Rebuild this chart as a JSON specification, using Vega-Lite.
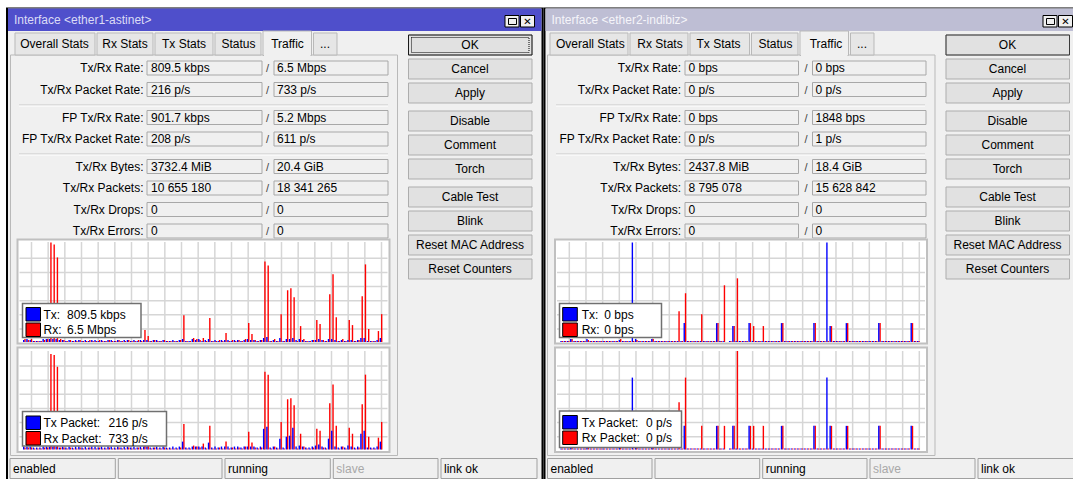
{
"$schema":"https://vega.github.io/schema/vega-lite/v6.json",
"padding":0,
"background":"#ffffff",
"spacing":0,
"bounds":"flush",
"config":{"view":{"stroke":null},"axis":{"disable":true},"legend":{"disable":true},"text":{"font":"Liberation Sans","fontSize":12,"baseline":"middle","align":"left","color":"#000000"}},
"datasets":{
"one":[{"k":0}],
"tbtn":[{"b":0},{"b":1}],
"tabs":[{"i":0,"j":1,"label":"Overall Stats"},{"i":1,"j":2,"label":"Rx Stats"},{"i":2,"j":3,"label":"Tx Stats"},{"i":3,"j":4,"label":"Status"},{"i":4,"j":5,"label":"Traffic"},{"i":5,"j":6,"label":"..."}],
"formL":[{"i":0,"label":"Tx/Rx Rate:","tx":"809.5 kbps","rx":"6.5 Mbps"},{"i":1,"label":"Tx/Rx Packet Rate:","tx":"216 p/s","rx":"733 p/s"},{"i":2,"label":"FP Tx/Rx Rate:","tx":"901.7 kbps","rx":"5.2 Mbps"},{"i":3,"label":"FP Tx/Rx Packet Rate:","tx":"208 p/s","rx":"611 p/s"},{"i":4,"label":"Tx/Rx Bytes:","tx":"3732.4 MiB","rx":"20.4 GiB"},{"i":5,"label":"Tx/Rx Packets:","tx":"10 655 180","rx":"18 341 265"},{"i":6,"label":"Tx/Rx Drops:","tx":"0","rx":"0"},{"i":7,"label":"Tx/Rx Errors:","tx":"0","rx":"0"}],
"formR":[{"i":0,"label":"Tx/Rx Rate:","tx":"0 bps","rx":"0 bps"},{"i":1,"label":"Tx/Rx Packet Rate:","tx":"0 p/s","rx":"0 p/s"},{"i":2,"label":"FP Tx/Rx Rate:","tx":"0 bps","rx":"1848 bps"},{"i":3,"label":"FP Tx/Rx Packet Rate:","tx":"0 p/s","rx":"1 p/s"},{"i":4,"label":"Tx/Rx Bytes:","tx":"2437.8 MiB","rx":"18.4 GiB"},{"i":5,"label":"Tx/Rx Packets:","tx":"8 795 078","rx":"15 628 842"},{"i":6,"label":"Tx/Rx Drops:","tx":"0","rx":"0"},{"i":7,"label":"Tx/Rx Errors:","tx":"0","rx":"0"}],
"seps":[{"s":0},{"s":1}],
"buttons":[{"i":0,"label":"OK"},{"i":1,"label":"Cancel"},{"i":2,"label":"Apply"},{"i":3,"label":"Disable"},{"i":4,"label":"Comment"},{"i":5,"label":"Torch"},{"i":6,"label":"Cable Test"},{"i":7,"label":"Blink"},{"i":8,"label":"Reset MAC Address"},{"i":9,"label":"Reset Counters"}],
"vgrid":[{"k":0},{"k":1},{"k":2},{"k":3},{"k":4},{"k":5},{"k":6},{"k":7},{"k":8},{"k":9},{"k":10},{"k":11},{"k":12},{"k":13},{"k":14},{"k":15},{"k":16},{"k":17},{"k":18},{"k":19},{"k":20},{"k":21}],
"hgrid":[{"k":0},{"k":1},{"k":2},{"k":3},{"k":4},{"k":5}],
"legL":[{"chart":"rate","s":0,"series":"tx","label":"Tx:","value":"809.5 kbps"},{"chart":"rate","s":1,"series":"rx","label":"Rx:","value":"6.5 Mbps"},{"chart":"pkt","s":0,"series":"tx","label":"Tx Packet:","value":"216 p/s"},{"chart":"pkt","s":1,"series":"rx","label":"Rx Packet:","value":"733 p/s"}],
"legR":[{"chart":"rate","s":0,"series":"tx","label":"Tx:","value":"0 bps"},{"chart":"rate","s":1,"series":"rx","label":"Rx:","value":"0 bps"},{"chart":"pkt","s":0,"series":"tx","label":"Tx Packet:","value":"0 p/s"},{"chart":"pkt","s":1,"series":"rx","label":"Rx Packet:","value":"0 p/s"}],
"status":[{"i":0,"j":1,"label":"enabled","dim":false},{"i":1,"j":2,"label":"","dim":false},{"i":2,"j":3,"label":"running","dim":false},{"i":3,"j":4,"label":"slave","dim":true},{"i":4,"j":5,"label":"link ok","dim":false}],
"rateL":[{"t":0,"tx":2,"rx":3},{"t":1,"tx":3,"rx":2},{"t":2,"tx":2,"rx":3},{"t":3,"tx":1,"rx":1},{"t":4,"tx":1,"rx":1},{"t":5,"tx":1,"rx":1},{"t":6,"tx":3,"rx":2},{"t":7,"tx":3,"rx":3},{"t":8,"tx":3,"rx":100},{"t":9,"tx":3,"rx":98},{"t":10,"tx":3,"rx":85},{"t":11,"tx":2,"rx":3},{"t":12,"tx":2,"rx":2},{"t":13,"tx":1,"rx":1},{"t":14,"tx":2,"rx":2},{"t":15,"tx":1,"rx":1},{"t":16,"tx":2,"rx":1},{"t":17,"tx":2,"rx":2},{"t":18,"tx":1,"rx":1},{"t":19,"tx":2,"rx":1},{"t":20,"tx":1,"rx":2},{"t":21,"tx":2,"rx":1},{"t":22,"tx":2,"rx":1},{"t":23,"tx":1,"rx":2},{"t":24,"tx":2,"rx":1},{"t":25,"tx":1,"rx":1},{"t":26,"tx":2,"rx":2},{"t":27,"tx":2,"rx":1},{"t":28,"tx":1,"rx":1},{"t":29,"tx":2,"rx":2},{"t":30,"tx":1,"rx":1},{"t":31,"tx":2,"rx":1},{"t":32,"tx":2,"rx":2},{"t":33,"tx":1,"rx":1},{"t":34,"tx":2,"rx":1},{"t":35,"tx":1,"rx":2},{"t":36,"tx":2,"rx":1},{"t":37,"tx":2,"rx":12},{"t":38,"tx":2,"rx":6},{"t":39,"tx":1,"rx":1},{"t":40,"tx":2,"rx":2},{"t":41,"tx":2,"rx":1},{"t":42,"tx":1,"rx":1},{"t":43,"tx":2,"rx":2},{"t":44,"tx":1,"rx":1},{"t":45,"tx":1,"rx":1},{"t":46,"tx":2,"rx":1},{"t":47,"tx":1,"rx":1},{"t":48,"tx":2,"rx":2},{"t":49,"tx":3,"rx":27},{"t":50,"tx":1,"rx":1},{"t":51,"tx":1,"rx":1},{"t":52,"tx":3,"rx":4},{"t":53,"tx":2,"rx":3},{"t":54,"tx":3,"rx":2},{"t":55,"tx":1,"rx":4},{"t":56,"tx":2,"rx":1},{"t":57,"tx":3,"rx":24},{"t":58,"tx":1,"rx":1},{"t":59,"tx":2,"rx":1},{"t":60,"tx":1,"rx":2},{"t":61,"tx":2,"rx":1},{"t":62,"tx":2,"rx":9},{"t":63,"tx":2,"rx":1},{"t":64,"tx":1,"rx":2},{"t":65,"tx":2,"rx":1},{"t":66,"tx":2,"rx":2},{"t":67,"tx":1,"rx":1},{"t":68,"tx":2,"rx":3},{"t":69,"tx":3,"rx":19},{"t":70,"tx":2,"rx":8},{"t":71,"tx":2,"rx":2},{"t":72,"tx":1,"rx":1},{"t":73,"tx":2,"rx":2},{"t":74,"tx":4,"rx":81},{"t":75,"tx":5,"rx":77},{"t":76,"tx":1,"rx":1},{"t":77,"tx":2,"rx":3},{"t":78,"tx":1,"rx":1},{"t":79,"tx":4,"rx":28},{"t":80,"tx":1,"rx":1},{"t":81,"tx":3,"rx":52},{"t":82,"tx":3,"rx":54},{"t":83,"tx":4,"rx":45},{"t":84,"tx":2,"rx":1},{"t":85,"tx":3,"rx":16},{"t":86,"tx":2,"rx":3},{"t":87,"tx":1,"rx":1},{"t":88,"tx":1,"rx":1},{"t":89,"tx":2,"rx":2},{"t":90,"tx":2,"rx":22},{"t":91,"tx":3,"rx":18},{"t":92,"tx":2,"rx":2},{"t":93,"tx":1,"rx":1},{"t":94,"tx":3,"rx":48},{"t":95,"tx":3,"rx":68},{"t":96,"tx":2,"rx":25},{"t":97,"tx":1,"rx":1},{"t":98,"tx":2,"rx":3},{"t":99,"tx":1,"rx":1},{"t":100,"tx":2,"rx":22},{"t":101,"tx":2,"rx":17},{"t":102,"tx":1,"rx":1},{"t":103,"tx":2,"rx":2},{"t":104,"tx":4,"rx":46},{"t":105,"tx":4,"rx":78},{"t":106,"tx":1,"rx":13},{"t":107,"tx":1,"rx":1},{"t":108,"tx":1,"rx":1},{"t":109,"tx":2,"rx":11},{"t":110,"tx":4,"rx":28}],
"pktL":[{"t":0,"tx":3,"rx":2},{"t":1,"tx":3,"rx":2},{"t":2,"tx":3,"rx":2},{"t":3,"tx":2,"rx":1},{"t":4,"tx":2,"rx":1},{"t":5,"tx":2,"rx":1},{"t":6,"tx":3,"rx":2},{"t":7,"tx":3,"rx":2},{"t":8,"tx":3,"rx":97},{"t":9,"tx":3,"rx":96},{"t":10,"tx":3,"rx":84},{"t":11,"tx":2,"rx":2},{"t":12,"tx":3,"rx":2},{"t":13,"tx":2,"rx":1},{"t":14,"tx":3,"rx":2},{"t":15,"tx":2,"rx":1},{"t":16,"tx":3,"rx":1},{"t":17,"tx":3,"rx":2},{"t":18,"tx":2,"rx":1},{"t":19,"tx":3,"rx":1},{"t":20,"tx":2,"rx":2},{"t":21,"tx":3,"rx":1},{"t":22,"tx":3,"rx":1},{"t":23,"tx":2,"rx":2},{"t":24,"tx":3,"rx":1},{"t":25,"tx":2,"rx":1},{"t":26,"tx":3,"rx":2},{"t":27,"tx":3,"rx":1},{"t":28,"tx":2,"rx":1},{"t":29,"tx":3,"rx":2},{"t":30,"tx":2,"rx":1},{"t":31,"tx":3,"rx":1},{"t":32,"tx":3,"rx":2},{"t":33,"tx":2,"rx":1},{"t":34,"tx":3,"rx":1},{"t":35,"tx":2,"rx":2},{"t":36,"tx":3,"rx":1},{"t":37,"tx":3,"rx":10},{"t":38,"tx":3,"rx":5},{"t":39,"tx":2,"rx":1},{"t":40,"tx":2,"rx":2},{"t":41,"tx":3,"rx":1},{"t":42,"tx":2,"rx":1},{"t":43,"tx":3,"rx":2},{"t":44,"tx":2,"rx":1},{"t":45,"tx":2,"rx":1},{"t":46,"tx":3,"rx":1},{"t":47,"tx":2,"rx":1},{"t":48,"tx":3,"rx":2},{"t":49,"tx":8,"rx":26},{"t":50,"tx":2,"rx":1},{"t":51,"tx":2,"rx":1},{"t":52,"tx":3,"rx":4},{"t":53,"tx":3,"rx":3},{"t":54,"tx":3,"rx":2},{"t":55,"tx":3,"rx":6},{"t":56,"tx":2,"rx":1},{"t":57,"tx":7,"rx":24},{"t":58,"tx":2,"rx":1},{"t":59,"tx":3,"rx":1},{"t":60,"tx":2,"rx":2},{"t":61,"tx":3,"rx":1},{"t":62,"tx":3,"rx":8},{"t":63,"tx":3,"rx":1},{"t":64,"tx":2,"rx":2},{"t":65,"tx":3,"rx":1},{"t":66,"tx":3,"rx":2},{"t":67,"tx":2,"rx":1},{"t":68,"tx":3,"rx":3},{"t":69,"tx":3,"rx":18},{"t":70,"tx":3,"rx":7},{"t":71,"tx":3,"rx":2},{"t":72,"tx":2,"rx":1},{"t":73,"tx":3,"rx":2},{"t":74,"tx":21,"rx":79},{"t":75,"tx":23,"rx":76},{"t":76,"tx":2,"rx":1},{"t":77,"tx":3,"rx":3},{"t":78,"tx":2,"rx":1},{"t":79,"tx":11,"rx":28},{"t":80,"tx":2,"rx":1},{"t":81,"tx":13,"rx":51},{"t":82,"tx":14,"rx":52},{"t":83,"tx":22,"rx":45},{"t":84,"tx":3,"rx":1},{"t":85,"tx":4,"rx":16},{"t":86,"tx":3,"rx":3},{"t":87,"tx":2,"rx":1},{"t":88,"tx":2,"rx":1},{"t":89,"tx":3,"rx":2},{"t":90,"tx":4,"rx":21},{"t":91,"tx":5,"rx":19},{"t":92,"tx":3,"rx":2},{"t":93,"tx":2,"rx":1},{"t":94,"tx":11,"rx":47},{"t":95,"tx":19,"rx":66},{"t":96,"tx":3,"rx":24},{"t":97,"tx":2,"rx":1},{"t":98,"tx":3,"rx":3},{"t":99,"tx":2,"rx":1},{"t":100,"tx":4,"rx":22},{"t":101,"tx":3,"rx":16},{"t":102,"tx":2,"rx":1},{"t":103,"tx":3,"rx":2},{"t":104,"tx":16,"rx":46},{"t":105,"tx":19,"rx":76},{"t":106,"tx":2,"rx":13},{"t":107,"tx":2,"rx":1},{"t":108,"tx":2,"rx":1},{"t":109,"tx":3,"rx":12},{"t":110,"tx":8,"rx":28}],
"rateR":[{"t":0,"tx":1,"rx":1},{"t":1,"tx":1,"rx":1},{"t":2,"tx":1,"rx":1},{"t":3,"tx":3,"rx":3},{"t":4,"tx":1,"rx":1},{"t":5,"tx":1,"rx":1},{"t":6,"tx":1,"rx":1},{"t":7,"tx":1,"rx":1},{"t":8,"tx":3,"rx":2},{"t":9,"tx":1,"rx":1},{"t":10,"tx":1,"rx":1},{"t":11,"tx":1,"rx":1},{"t":12,"tx":1,"rx":1},{"t":13,"tx":1,"rx":1},{"t":14,"tx":1,"rx":1},{"t":15,"tx":1,"rx":1},{"t":16,"tx":1,"rx":1},{"t":17,"tx":1,"rx":1},{"t":18,"tx":2,"rx":3},{"t":19,"tx":1,"rx":1},{"t":20,"tx":1,"rx":1},{"t":21,"tx":1,"rx":1},{"t":22,"tx":100,"rx":1},{"t":23,"tx":3,"rx":2},{"t":24,"tx":1,"rx":1},{"t":25,"tx":1,"rx":1},{"t":26,"tx":1,"rx":1},{"t":27,"tx":1,"rx":1},{"t":28,"tx":3,"rx":3},{"t":29,"tx":1,"rx":1},{"t":30,"tx":1,"rx":1},{"t":31,"tx":1,"rx":1},{"t":32,"tx":1,"rx":1},{"t":33,"tx":1,"rx":1},{"t":34,"tx":1,"rx":1},{"t":35,"tx":1,"rx":1},{"t":36,"tx":1,"rx":31},{"t":37,"tx":1,"rx":1},{"t":38,"tx":19,"rx":49},{"t":39,"tx":1,"rx":1},{"t":40,"tx":1,"rx":1},{"t":41,"tx":1,"rx":1},{"t":42,"tx":1,"rx":1},{"t":43,"tx":1,"rx":28},{"t":44,"tx":1,"rx":1},{"t":45,"tx":1,"rx":1},{"t":46,"tx":1,"rx":1},{"t":47,"tx":1,"rx":1},{"t":48,"tx":19,"rx":19},{"t":49,"tx":1,"rx":1},{"t":50,"tx":1,"rx":57},{"t":51,"tx":0,"rx":0},{"t":52,"tx":1,"rx":1},{"t":53,"tx":16,"rx":16},{"t":54,"tx":1,"rx":64},{"t":55,"tx":1,"rx":1},{"t":56,"tx":1,"rx":1},{"t":57,"tx":1,"rx":1},{"t":58,"tx":19,"rx":19},{"t":59,"tx":1,"rx":16},{"t":60,"tx":1,"rx":1},{"t":61,"tx":1,"rx":1},{"t":62,"tx":1,"rx":16},{"t":63,"tx":1,"rx":1},{"t":64,"tx":1,"rx":1},{"t":65,"tx":1,"rx":1},{"t":66,"tx":1,"rx":1},{"t":67,"tx":1,"rx":1},{"t":68,"tx":19,"rx":19},{"t":69,"tx":1,"rx":1},{"t":70,"tx":1,"rx":1},{"t":71,"tx":1,"rx":1},{"t":72,"tx":1,"rx":1},{"t":73,"tx":1,"rx":1},{"t":74,"tx":1,"rx":1},{"t":75,"tx":1,"rx":1},{"t":76,"tx":1,"rx":1},{"t":77,"tx":1,"rx":1},{"t":78,"tx":19,"rx":19},{"t":79,"tx":1,"rx":1},{"t":80,"tx":1,"rx":1},{"t":81,"tx":1,"rx":1},{"t":82,"tx":100,"rx":1},{"t":83,"tx":16,"rx":16},{"t":84,"tx":1,"rx":1},{"t":85,"tx":1,"rx":1},{"t":86,"tx":1,"rx":1},{"t":87,"tx":1,"rx":1},{"t":88,"tx":19,"rx":19},{"t":89,"tx":1,"rx":1},{"t":90,"tx":1,"rx":1},{"t":91,"tx":1,"rx":1},{"t":92,"tx":1,"rx":1},{"t":93,"tx":1,"rx":1},{"t":94,"tx":1,"rx":1},{"t":95,"tx":1,"rx":1},{"t":96,"tx":1,"rx":1},{"t":97,"tx":1,"rx":1},{"t":98,"tx":19,"rx":19},{"t":99,"tx":1,"rx":1},{"t":100,"tx":1,"rx":1},{"t":101,"tx":1,"rx":1},{"t":102,"tx":1,"rx":1},{"t":103,"tx":1,"rx":1},{"t":104,"tx":1,"rx":1},{"t":105,"tx":1,"rx":1},{"t":106,"tx":1,"rx":1},{"t":107,"tx":1,"rx":1},{"t":108,"tx":19,"rx":19},{"t":109,"tx":1,"rx":1},{"t":110,"tx":1,"rx":1}],
"pktR":[{"t":0,"tx":1,"rx":1},{"t":1,"tx":1,"rx":1},{"t":2,"tx":1,"rx":1},{"t":3,"tx":3,"rx":3},{"t":4,"tx":1,"rx":1},{"t":5,"tx":1,"rx":1},{"t":6,"tx":1,"rx":1},{"t":7,"tx":1,"rx":1},{"t":8,"tx":3,"rx":2},{"t":9,"tx":1,"rx":1},{"t":10,"tx":1,"rx":1},{"t":11,"tx":1,"rx":1},{"t":12,"tx":1,"rx":1},{"t":13,"tx":1,"rx":1},{"t":14,"tx":1,"rx":1},{"t":15,"tx":1,"rx":1},{"t":16,"tx":1,"rx":1},{"t":17,"tx":1,"rx":1},{"t":18,"tx":2,"rx":3},{"t":19,"tx":1,"rx":1},{"t":20,"tx":1,"rx":1},{"t":21,"tx":1,"rx":1},{"t":22,"tx":73,"rx":1},{"t":23,"tx":3,"rx":2},{"t":24,"tx":1,"rx":1},{"t":25,"tx":1,"rx":1},{"t":26,"tx":1,"rx":1},{"t":27,"tx":1,"rx":1},{"t":28,"tx":3,"rx":3},{"t":29,"tx":1,"rx":1},{"t":30,"tx":1,"rx":1},{"t":31,"tx":1,"rx":1},{"t":32,"tx":1,"rx":1},{"t":33,"tx":1,"rx":1},{"t":34,"tx":1,"rx":1},{"t":35,"tx":1,"rx":1},{"t":36,"tx":1,"rx":48},{"t":37,"tx":1,"rx":1},{"t":38,"tx":24,"rx":73},{"t":39,"tx":1,"rx":1},{"t":40,"tx":1,"rx":1},{"t":41,"tx":1,"rx":1},{"t":42,"tx":1,"rx":1},{"t":43,"tx":1,"rx":24},{"t":44,"tx":1,"rx":1},{"t":45,"tx":1,"rx":1},{"t":46,"tx":1,"rx":1},{"t":47,"tx":1,"rx":1},{"t":48,"tx":24,"rx":24},{"t":49,"tx":1,"rx":1},{"t":50,"tx":1,"rx":24},{"t":51,"tx":0,"rx":0},{"t":52,"tx":1,"rx":1},{"t":53,"tx":24,"rx":24},{"t":54,"tx":1,"rx":100},{"t":55,"tx":1,"rx":1},{"t":56,"tx":1,"rx":1},{"t":57,"tx":1,"rx":1},{"t":58,"tx":24,"rx":24},{"t":59,"tx":1,"rx":24},{"t":60,"tx":1,"rx":1},{"t":61,"tx":1,"rx":1},{"t":62,"tx":1,"rx":24},{"t":63,"tx":1,"rx":1},{"t":64,"tx":1,"rx":1},{"t":65,"tx":1,"rx":1},{"t":66,"tx":1,"rx":1},{"t":67,"tx":1,"rx":1},{"t":68,"tx":24,"rx":24},{"t":69,"tx":1,"rx":1},{"t":70,"tx":1,"rx":1},{"t":71,"tx":1,"rx":1},{"t":72,"tx":1,"rx":1},{"t":73,"tx":1,"rx":1},{"t":74,"tx":1,"rx":1},{"t":75,"tx":1,"rx":1},{"t":76,"tx":1,"rx":1},{"t":77,"tx":1,"rx":1},{"t":78,"tx":24,"rx":24},{"t":79,"tx":1,"rx":1},{"t":80,"tx":1,"rx":1},{"t":81,"tx":1,"rx":1},{"t":82,"tx":73,"rx":1},{"t":83,"tx":24,"rx":24},{"t":84,"tx":1,"rx":1},{"t":85,"tx":1,"rx":1},{"t":86,"tx":1,"rx":1},{"t":87,"tx":1,"rx":1},{"t":88,"tx":24,"rx":24},{"t":89,"tx":1,"rx":1},{"t":90,"tx":1,"rx":1},{"t":91,"tx":1,"rx":1},{"t":92,"tx":1,"rx":1},{"t":93,"tx":1,"rx":1},{"t":94,"tx":1,"rx":1},{"t":95,"tx":1,"rx":1},{"t":96,"tx":1,"rx":1},{"t":97,"tx":1,"rx":1},{"t":98,"tx":24,"rx":24},{"t":99,"tx":1,"rx":1},{"t":100,"tx":1,"rx":1},{"t":101,"tx":1,"rx":1},{"t":102,"tx":1,"rx":1},{"t":103,"tx":1,"rx":1},{"t":104,"tx":1,"rx":1},{"t":105,"tx":1,"rx":1},{"t":106,"tx":1,"rx":1},{"t":107,"tx":1,"rx":1},{"t":108,"tx":24,"rx":24},{"t":109,"tx":1,"rx":1},{"t":110,"tx":1,"rx":1}]
},
"hconcat":[
{"width":538,"height":479,
"resolve":{"scale":{"x":"independent","y":"independent","fill":"independent","color":"independent"}},
"layer":[
{"data":{"name":"one"},"mark":{"type":"rect","fill":"#000000"},"encoding":{"x":{"datum":0,"type":"quantitative","scale":{"domain":[0,1],"range":[6,543.5],"nice":false}},"x2":{"datum":1},"y":{"datum":0,"type":"quantitative","scale":{"domain":[0,1],"range":[7.5,479],"nice":false}},"y2":{"datum":1}}},
{"data":{"name":"one"},"mark":{"type":"rect","fill":"#f0f0f0"},"encoding":{"x":{"datum":0,"type":"quantitative","scale":{"domain":[0,1],"range":[8,541.5],"nice":false}},"x2":{"datum":1},"y":{"datum":0,"type":"quantitative","scale":{"domain":[0,1],"range":[8.5,479],"nice":false}},"y2":{"datum":1}}},
{"data":{"name":"one"},"mark":{"type":"rect","fill":"#4f4fcb"},"encoding":{"x":{"datum":0,"type":"quantitative","scale":{"domain":[0,1],"range":[8,541.5],"nice":false}},"x2":{"datum":1},"y":{"datum":0,"type":"quantitative","scale":{"domain":[0,1],"range":[8.5,31],"nice":false}},"y2":{"datum":1}}},
{"data":{"name":"one"},"mark":{"type":"text","color":"#dcdcf6"},"encoding":{"x":{"datum":0,"type":"quantitative","scale":{"domain":[0,1],"range":[14,100],"nice":false}},"y":{"datum":0,"type":"quantitative","scale":{"domain":[0,1],"range":[20,30],"nice":false}},"text":{"value":"Interface <ether1-astinet>"}}},
{"data":{"name":"tbtn"},"mark":{"type":"rect","fill":"#f0f0f0","stroke":"#000000","strokeWidth":1,"x2Offset":14},"encoding":{"x":{"field":"b","type":"quantitative","scale":{"domain":[0,1],"range":[505,520.5],"nice":false}},"x2":{"field":"b"},"y":{"datum":0,"type":"quantitative","scale":{"domain":[0,1],"range":[15.5,27],"nice":false}},"y2":{"datum":1}}},
{"data":{"name":"one"},"mark":{"type":"rect","filled":false,"stroke":"#000000","strokeWidth":1},"encoding":{"x":{"datum":0,"type":"quantitative","scale":{"domain":[0,1],"range":[508.5,516.5],"nice":false}},"x2":{"datum":1},"y":{"datum":0,"type":"quantitative","scale":{"domain":[0,1],"range":[18.5,24.5],"nice":false}},"y2":{"datum":1}}},
{"data":{"name":"one"},"mark":{"type":"text","font":"DejaVu Sans","fontSize":10,"fontWeight":"bold","align":"center"},"encoding":{"x":{"datum":0,"type":"quantitative","scale":{"domain":[0,1],"range":[527.5,600],"nice":false}},"y":{"datum":0,"type":"quantitative","scale":{"domain":[0,1],"range":[21.5,30],"nice":false}},"text":{"value":"✕"}}},
{"data":{"name":"one"},"mark":{"type":"rect","filled":false,"stroke":"#b9b9b9"},"encoding":{"x":{"datum":0,"type":"quantitative","scale":{"domain":[0,1],"range":[10.5,397.5],"nice":false}},"x2":{"datum":1},"y":{"datum":0,"type":"quantitative","scale":{"domain":[0,1],"range":[55,455.5],"nice":false}},"y2":{"datum":1}}},
{"data":{"name":"tabs"},"transform":[{"filter":"datum.i != 4"}],"mark":{"type":"rect","fill":"#e6e6e6","stroke":"#b9b9b9","x2Offset":-2},"encoding":{"x":{"field":"i","type":"quantitative","scale":{"domain":[0,1,2,3,4,5,6],"range":[15,97,155,215,263,313.5,339],"nice":false}},"x2":{"field":"j"},"y":{"datum":0,"type":"quantitative","scale":{"domain":[0,1],"range":[33,55],"nice":false}},"y2":{"datum":1}}},
{"data":{"name":"tabs"},"transform":[{"filter":"datum.i == 4"}],"mark":{"type":"rect","fill":"#f0f0f0","stroke":"#b9b9b9","x2Offset":-2},"encoding":{"x":{"field":"i","type":"quantitative","scale":{"domain":[0,1,2,3,4,5,6],"range":[15,97,155,215,263,313.5,339],"nice":false}},"x2":{"field":"j"},"y":{"datum":0,"type":"quantitative","scale":{"domain":[0,1],"range":[31,55.5],"nice":false}},"y2":{"datum":1}}},
{"data":{"name":"tabs"},"transform":[{"filter":"datum.i == 4"}],"mark":{"type":"rect","fill":"#f0f0f0","xOffset":1,"x2Offset":-3},"encoding":{"x":{"field":"i","type":"quantitative","scale":{"domain":[0,1,2,3,4,5,6],"range":[15,97,155,215,263,313.5,339],"nice":false}},"x2":{"field":"j"},"y":{"datum":0,"type":"quantitative","scale":{"domain":[0,1],"range":[54,57],"nice":false}},"y2":{"datum":1}}},
{"data":{"name":"tabs"},"mark":{"type":"text","align":"center"},"encoding":{"x":{"field":"i","type":"quantitative","scale":{"domain":[0,1,2,3,4,5],"range":[54.5,125,184,238.5,287.5,325],"nice":false}},"y":{"datum":0,"type":"quantitative","scale":{"domain":[0,1],"range":[44,50],"nice":false}},"text":{"field":"label"}}},
{"data":{"name":"formL"},"mark":{"type":"text","align":"right"},"encoding":{"x":{"datum":0,"type":"quantitative","scale":{"domain":[0,1],"range":[143.5,200],"nice":false}},"y":{"field":"i","type":"quantitative","scale":{"domain":[0,1,2,3,4,7],"range":[68,89.5,117.5,139,166.5,231],"nice":false}},"text":{"field":"label"}}},
{"data":{"name":"formL"},"mark":{"type":"text","align":"center","fontSize":11,"color":"#444444","dy":1},"encoding":{"x":{"datum":0,"type":"quantitative","scale":{"domain":[0,1],"range":[267.5,300],"nice":false}},"y":{"field":"i","type":"quantitative","scale":{"domain":[0,1,2,3,4,7],"range":[68,89.5,117.5,139,166.5,231],"nice":false}},"text":{"value":"/"}}},
{"data":{"name":"formL"},"mark":{"type":"rect","fill":"#f0f0f0","stroke":"#a8a8a8","yOffset":-7,"y2Offset":7},"encoding":{"x":{"datum":0,"type":"quantitative","scale":{"domain":[0,1],"range":[147,262],"nice":false}},"x2":{"datum":1},"y":{"field":"i","type":"quantitative","scale":{"domain":[0,1,2,3,4,7],"range":[68,89.5,117.5,139,166.5,231],"nice":false}},"y2":{"field":"i"}}},
{"data":{"name":"formL"},"mark":{"type":"rect","fill":"#f0f0f0","stroke":"#a8a8a8","yOffset":-7,"y2Offset":7},"encoding":{"x":{"datum":0,"type":"quantitative","scale":{"domain":[0,1],"range":[274,388],"nice":false}},"x2":{"datum":1},"y":{"field":"i","type":"quantitative","scale":{"domain":[0,1,2,3,4,7],"range":[68,89.5,117.5,139,166.5,231],"nice":false}},"y2":{"field":"i"}}},
{"data":{"name":"formL"},"mark":{"type":"text"},"encoding":{"x":{"datum":0,"type":"quantitative","scale":{"domain":[0,1],"range":[151,200],"nice":false}},"y":{"field":"i","type":"quantitative","scale":{"domain":[0,1,2,3,4,7],"range":[68,89.5,117.5,139,166.5,231],"nice":false}},"text":{"field":"tx"}}},
{"data":{"name":"formL"},"mark":{"type":"text"},"encoding":{"x":{"datum":0,"type":"quantitative","scale":{"domain":[0,1],"range":[277,300],"nice":false}},"y":{"field":"i","type":"quantitative","scale":{"domain":[0,1,2,3,4,7],"range":[68,89.5,117.5,139,166.5,231],"nice":false}},"text":{"field":"rx"}}},
{"data":{"name":"seps"},"mark":{"type":"rule","stroke":"#c8c8c8"},"encoding":{"x":{"datum":0,"type":"quantitative","scale":{"domain":[0,1],"range":[19,388],"nice":false}},"x2":{"datum":1},"y":{"field":"s","type":"quantitative","scale":{"domain":[0,1],"range":[105,154],"nice":false}}}},
{"data":{"name":"seps"},"mark":{"type":"rule","stroke":"#ffffff","yOffset":1},"encoding":{"x":{"datum":0,"type":"quantitative","scale":{"domain":[0,1],"range":[19,388],"nice":false}},"x2":{"datum":1},"y":{"field":"s","type":"quantitative","scale":{"domain":[0,1],"range":[105,154],"nice":false}}}},
{"data":{"name":"buttons"},"mark":{"type":"rect","fill":"#e1e1e1","stroke":"#adadad","yOffset":-10,"y2Offset":10},"encoding":{"x":{"datum":0,"type":"quantitative","scale":{"domain":[0,1],"range":[408.5,532],"nice":false}},"x2":{"datum":1},"y":{"field":"i","type":"quantitative","scale":{"domain":[0,2,3,5,6,9],"range":[45,93,121,169,197,269],"nice":false}},"y2":{"field":"i"}}},
{"data":{"name":"buttons"},"transform":[{"filter":"datum.i == 0"}],"mark":{"type":"rect","filled":false,"stroke":"#1a1a1a","yOffset":-10,"y2Offset":10},"encoding":{"x":{"datum":0,"type":"quantitative","scale":{"domain":[0,1],"range":[408.5,532],"nice":false}},"x2":{"datum":1},"y":{"field":"i","type":"quantitative","scale":{"domain":[0,2,3,5,6,9],"range":[45,93,121,169,197,269],"nice":false}},"y2":{"field":"i"}}},
{"data":{"name":"buttons"},"transform":[{"filter":"datum.i == 0"}],"mark":{"type":"rect","filled":false,"stroke":"#000000","strokeDash":[1,1],"yOffset":-7.5,"y2Offset":7.5},"encoding":{"x":{"datum":0,"type":"quantitative","scale":{"domain":[0,1],"range":[411.5,529],"nice":false}},"x2":{"datum":1},"y":{"field":"i","type":"quantitative","scale":{"domain":[0,2,3,5,6,9],"range":[45,93,121,169,197,269],"nice":false}},"y2":{"field":"i"}}},
{"data":{"name":"buttons"},"mark":{"type":"text","align":"center"},"encoding":{"x":{"datum":0,"type":"quantitative","scale":{"domain":[0,1],"range":[470,500],"nice":false}},"y":{"field":"i","type":"quantitative","scale":{"domain":[0,2,3,5,6,9],"range":[45,93,121,169,197,269],"nice":false}},"text":{"field":"label"}}},
{"data":{"name":"one"},"mark":{"type":"rect","fill":"#ffffff","stroke":"#c0c0c0","strokeWidth":2},"encoding":{"x":{"datum":0,"type":"quantitative","scale":{"domain":[0,1],"range":[17.5,389.5],"nice":false}},"x2":{"datum":1},"y":{"datum":0,"type":"quantitative","scale":{"domain":[0,1],"range":[239.5,343.5],"nice":false}},"y2":{"datum":1}}},
{"data":{"name":"vgrid"},"mark":{"type":"rule","stroke":"#d6d6d6","strokeWidth":1.5},"encoding":{"x":{"field":"k","type":"quantitative","scale":{"domain":[0,21],"range":[31.5,381.5],"nice":false}},"y":{"datum":0,"type":"quantitative","scale":{"domain":[0,1],"range":[242,342],"nice":false}},"y2":{"datum":1}}},
{"data":{"name":"hgrid"},"mark":{"type":"rule","stroke":"#d6d6d6","strokeWidth":1.5},"encoding":{"x":{"datum":0,"type":"quantitative","scale":{"domain":[0,1],"range":[19.5,387.5],"nice":false}},"x2":{"datum":1},"y":{"field":"k","type":"quantitative","scale":{"domain":[0,5],"range":[329,258.3],"nice":false}}}},
{"data":{"name":"rateL"},"mark":{"type":"bar","width":1.4,"color":"#ff0000"},"encoding":{"x":{"field":"t","type":"quantitative","scale":{"domain":[0,110],"range":[20,386.67],"nice":false,"zero":false}},"y":{"field":"rx","type":"quantitative","scale":{"domain":[0,100],"range":[342,242.5],"nice":false}},"y2":{"datum":0}}},
{"data":{"name":"rateL"},"mark":{"type":"bar","width":1.4,"color":"#0000ff","xOffset":-1.3},"encoding":{"x":{"field":"t","type":"quantitative","scale":{"domain":[0,110],"range":[20,386.67],"nice":false,"zero":false}},"y":{"field":"tx","type":"quantitative","scale":{"domain":[0,100],"range":[342,242.5],"nice":false}},"y2":{"datum":0}}},
{"data":{"name":"one"},"mark":{"type":"rect","fill":"#ffffff","stroke":"#707070","strokeWidth":1.5},"encoding":{"x":{"datum":0,"type":"quantitative","scale":{"domain":[0,1],"range":[22.5,141],"nice":false}},"x2":{"datum":1},"y":{"datum":0,"type":"quantitative","scale":{"domain":[0,1],"range":[303.5,337.5],"nice":false}},"y2":{"datum":1}}},
{"data":{"name":"legL"},"transform":[{"filter":"datum.chart == 'rate'"}],"mark":{"type":"rect","stroke":"#000000","strokeWidth":1,"y2Offset":13.5},"encoding":{"x":{"datum":0,"type":"quantitative","scale":{"domain":[0,1],"range":[26,40.5],"nice":false}},"x2":{"datum":1},"y":{"field":"s","type":"quantitative","scale":{"domain":[0,1],"range":[307.5,323],"nice":false}},"y2":{"field":"s"},"fill":{"field":"series","type":"nominal","scale":{"domain":["tx","rx"],"range":["#0000ff","#ff0000"]},"legend":null}}},
{"data":{"name":"legL"},"transform":[{"filter":"datum.chart == 'rate'"}],"mark":{"type":"text"},"encoding":{"x":{"datum":0,"type":"quantitative","scale":{"domain":[0,1],"range":[43.5,100],"nice":false}},"y":{"field":"s","type":"quantitative","scale":{"domain":[0,1],"range":[315,330],"nice":false}},"text":{"field":"label"}}},
{"data":{"name":"legL"},"transform":[{"filter":"datum.chart == 'rate'"}],"mark":{"type":"text"},"encoding":{"x":{"datum":0,"type":"quantitative","scale":{"domain":[0,1],"range":[67,100],"nice":false}},"y":{"field":"s","type":"quantitative","scale":{"domain":[0,1],"range":[315,330],"nice":false}},"text":{"field":"value"}}},
{"data":{"name":"one"},"mark":{"type":"rect","fill":"#ffffff","stroke":"#c0c0c0","strokeWidth":2},"encoding":{"x":{"datum":0,"type":"quantitative","scale":{"domain":[0,1],"range":[17.5,389.5],"nice":false}},"x2":{"datum":1},"y":{"datum":0,"type":"quantitative","scale":{"domain":[0,1],"range":[347.5,452],"nice":false}},"y2":{"datum":1}}},
{"data":{"name":"vgrid"},"mark":{"type":"rule","stroke":"#d6d6d6","strokeWidth":1.5},"encoding":{"x":{"field":"k","type":"quantitative","scale":{"domain":[0,21],"range":[31.5,381.5],"nice":false}},"y":{"datum":0,"type":"quantitative","scale":{"domain":[0,1],"range":[351,450],"nice":false}},"y2":{"datum":1}}},
{"data":{"name":"hgrid"},"mark":{"type":"rule","stroke":"#d6d6d6","strokeWidth":1.5},"encoding":{"x":{"datum":0,"type":"quantitative","scale":{"domain":[0,1],"range":[19.5,387.5],"nice":false}},"x2":{"datum":1},"y":{"field":"k","type":"quantitative","scale":{"domain":[0,5],"range":[436.7,366],"nice":false}}}},
{"data":{"name":"pktL"},"mark":{"type":"bar","width":1.4,"color":"#ff0000"},"encoding":{"x":{"field":"t","type":"quantitative","scale":{"domain":[0,110],"range":[20,386.67],"nice":false,"zero":false}},"y":{"field":"rx","type":"quantitative","scale":{"domain":[0,100],"range":[449.5,351],"nice":false}},"y2":{"datum":0}}},
{"data":{"name":"pktL"},"mark":{"type":"bar","width":1.4,"color":"#0000ff","xOffset":-1.3},"encoding":{"x":{"field":"t","type":"quantitative","scale":{"domain":[0,110],"range":[20,386.67],"nice":false,"zero":false}},"y":{"field":"tx","type":"quantitative","scale":{"domain":[0,100],"range":[449.5,351],"nice":false}},"y2":{"datum":0}}},
{"data":{"name":"one"},"mark":{"type":"rect","fill":"#ffffff","stroke":"#707070","strokeWidth":1.5},"encoding":{"x":{"datum":0,"type":"quantitative","scale":{"domain":[0,1],"range":[22.5,166.5],"nice":false}},"x2":{"datum":1},"y":{"datum":0,"type":"quantitative","scale":{"domain":[0,1],"range":[411.5,446],"nice":false}},"y2":{"datum":1}}},
{"data":{"name":"legL"},"transform":[{"filter":"datum.chart == 'pkt'"}],"mark":{"type":"rect","stroke":"#000000","strokeWidth":1,"y2Offset":13.5},"encoding":{"x":{"datum":0,"type":"quantitative","scale":{"domain":[0,1],"range":[26,40.5],"nice":false}},"x2":{"datum":1},"y":{"field":"s","type":"quantitative","scale":{"domain":[0,1],"range":[416,431.5],"nice":false}},"y2":{"field":"s"},"fill":{"field":"series","type":"nominal","scale":{"domain":["tx","rx"],"range":["#0000ff","#ff0000"]},"legend":null}}},
{"data":{"name":"legL"},"transform":[{"filter":"datum.chart == 'pkt'"}],"mark":{"type":"text"},"encoding":{"x":{"datum":0,"type":"quantitative","scale":{"domain":[0,1],"range":[43.5,100],"nice":false}},"y":{"field":"s","type":"quantitative","scale":{"domain":[0,1],"range":[423,438.5],"nice":false}},"text":{"field":"label"}}},
{"data":{"name":"legL"},"transform":[{"filter":"datum.chart == 'pkt'"}],"mark":{"type":"text"},"encoding":{"x":{"datum":0,"type":"quantitative","scale":{"domain":[0,1],"range":[108.5,150],"nice":false}},"y":{"field":"s","type":"quantitative","scale":{"domain":[0,1],"range":[423,438.5],"nice":false}},"text":{"field":"value"}}},
{"data":{"name":"status"},"mark":{"type":"rect","fill":"#f0f0f0","stroke":"#a0a0a0","x2Offset":-3},"encoding":{"x":{"field":"i","type":"quantitative","scale":{"domain":[0,1,2,3,4,5],"range":[10,118.3,225,333.3,441,540],"nice":false}},"x2":{"field":"j"},"y":{"datum":0,"type":"quantitative","scale":{"domain":[0,1],"range":[458.5,478.5],"nice":false}},"y2":{"datum":1}}},
{"data":{"name":"status"},"mark":{"type":"text","dx":3},"encoding":{"x":{"field":"i","type":"quantitative","scale":{"domain":[0,1,2,3,4,5],"range":[10,118.3,225,333.3,441,540],"nice":false}},"y":{"datum":0,"type":"quantitative","scale":{"domain":[0,1],"range":[468.5,478],"nice":false}},"text":{"field":"label"},"color":{"condition":{"test":"datum.dim","value":"#a8a8a8"},"value":"#000000"}}}
]},
{"width":535,"height":479,
"resolve":{"scale":{"x":"independent","y":"independent","fill":"independent","color":"independent"}},
"layer":[
{"data":{"name":"one"},"mark":{"type":"rect","fill":"#000000"},"encoding":{"x":{"datum":0,"type":"quantitative","scale":{"domain":[0,1],"range":[5.5,535],"nice":false}},"x2":{"datum":1},"y":{"datum":0,"type":"quantitative","scale":{"domain":[0,1],"range":[7.5,479],"nice":false}},"y2":{"datum":1}}},
{"data":{"name":"one"},"mark":{"type":"rect","fill":"#f0f0f0"},"encoding":{"x":{"datum":0,"type":"quantitative","scale":{"domain":[0,1],"range":[7.5,535],"nice":false}},"x2":{"datum":1},"y":{"datum":0,"type":"quantitative","scale":{"domain":[0,1],"range":[8.5,479],"nice":false}},"y2":{"datum":1}}},
{"data":{"name":"one"},"mark":{"type":"rect","fill":"#bebed4"},"encoding":{"x":{"datum":0,"type":"quantitative","scale":{"domain":[0,1],"range":[7.5,535],"nice":false}},"x2":{"datum":1},"y":{"datum":0,"type":"quantitative","scale":{"domain":[0,1],"range":[8.5,31],"nice":false}},"y2":{"datum":1}}},
{"data":{"name":"one"},"mark":{"type":"text","color":"#f5f5fa"},"encoding":{"x":{"datum":0,"type":"quantitative","scale":{"domain":[0,1],"range":[13.5,100],"nice":false}},"y":{"datum":0,"type":"quantitative","scale":{"domain":[0,1],"range":[20,30],"nice":false}},"text":{"value":"Interface <ether2-indibiz>"}}},
{"data":{"name":"tbtn"},"mark":{"type":"rect","fill":"#f0f0f0","stroke":"#000000","strokeWidth":1,"x2Offset":14},"encoding":{"x":{"field":"b","type":"quantitative","scale":{"domain":[0,1],"range":[505,520.5],"nice":false}},"x2":{"field":"b"},"y":{"datum":0,"type":"quantitative","scale":{"domain":[0,1],"range":[15.5,27],"nice":false}},"y2":{"datum":1}}},
{"data":{"name":"one"},"mark":{"type":"rect","filled":false,"stroke":"#000000","strokeWidth":1},"encoding":{"x":{"datum":0,"type":"quantitative","scale":{"domain":[0,1],"range":[508.5,516.5],"nice":false}},"x2":{"datum":1},"y":{"datum":0,"type":"quantitative","scale":{"domain":[0,1],"range":[18.5,24.5],"nice":false}},"y2":{"datum":1}}},
{"data":{"name":"one"},"mark":{"type":"text","font":"DejaVu Sans","fontSize":10,"fontWeight":"bold","align":"center"},"encoding":{"x":{"datum":0,"type":"quantitative","scale":{"domain":[0,1],"range":[527.5,600],"nice":false}},"y":{"datum":0,"type":"quantitative","scale":{"domain":[0,1],"range":[21.5,30],"nice":false}},"text":{"value":"✕"}}},
{"data":{"name":"one"},"mark":{"type":"rect","filled":false,"stroke":"#b9b9b9"},"encoding":{"x":{"datum":0,"type":"quantitative","scale":{"domain":[0,1],"range":[9.5,397],"nice":false}},"x2":{"datum":1},"y":{"datum":0,"type":"quantitative","scale":{"domain":[0,1],"range":[55,455.5],"nice":false}},"y2":{"datum":1}}},
{"data":{"name":"tabs"},"transform":[{"filter":"datum.i != 4"}],"mark":{"type":"rect","fill":"#e6e6e6","stroke":"#b9b9b9","x2Offset":-2},"encoding":{"x":{"field":"i","type":"quantitative","scale":{"domain":[0,1,2,3,4,5,6],"range":[12,92,152,213.5,262,312.5,338],"nice":false}},"x2":{"field":"j"},"y":{"datum":0,"type":"quantitative","scale":{"domain":[0,1],"range":[33,55],"nice":false}},"y2":{"datum":1}}},
{"data":{"name":"tabs"},"transform":[{"filter":"datum.i == 4"}],"mark":{"type":"rect","fill":"#f0f0f0","stroke":"#b9b9b9","x2Offset":-2},"encoding":{"x":{"field":"i","type":"quantitative","scale":{"domain":[0,1,2,3,4,5,6],"range":[12,92,152,213.5,262,312.5,338],"nice":false}},"x2":{"field":"j"},"y":{"datum":0,"type":"quantitative","scale":{"domain":[0,1],"range":[31,55.5],"nice":false}},"y2":{"datum":1}}},
{"data":{"name":"tabs"},"transform":[{"filter":"datum.i == 4"}],"mark":{"type":"rect","fill":"#f0f0f0","xOffset":1,"x2Offset":-3},"encoding":{"x":{"field":"i","type":"quantitative","scale":{"domain":[0,1,2,3,4,5,6],"range":[12,92,152,213.5,262,312.5,338],"nice":false}},"x2":{"field":"j"},"y":{"datum":0,"type":"quantitative","scale":{"domain":[0,1],"range":[54,57],"nice":false}},"y2":{"datum":1}}},
{"data":{"name":"tabs"},"mark":{"type":"text","align":"center"},"encoding":{"x":{"field":"i","type":"quantitative","scale":{"domain":[0,1,2,3,4,5],"range":[52.3,122,180.5,237.5,288,324],"nice":false}},"y":{"datum":0,"type":"quantitative","scale":{"domain":[0,1],"range":[44,50],"nice":false}},"text":{"field":"label"}}},
{"data":{"name":"formR"},"mark":{"type":"text","align":"right"},"encoding":{"x":{"datum":0,"type":"quantitative","scale":{"domain":[0,1],"range":[143,200],"nice":false}},"y":{"field":"i","type":"quantitative","scale":{"domain":[0,1,2,3,4,7],"range":[68,89.5,117.5,139,166.5,231],"nice":false}},"text":{"field":"label"}}},
{"data":{"name":"formR"},"mark":{"type":"text","align":"center","fontSize":11,"color":"#444444","dy":1},"encoding":{"x":{"datum":0,"type":"quantitative","scale":{"domain":[0,1],"range":[268,300],"nice":false}},"y":{"field":"i","type":"quantitative","scale":{"domain":[0,1,2,3,4,7],"range":[68,89.5,117.5,139,166.5,231],"nice":false}},"text":{"value":"/"}}},
{"data":{"name":"formR"},"mark":{"type":"rect","fill":"#f0f0f0","stroke":"#a8a8a8","yOffset":-7,"y2Offset":7},"encoding":{"x":{"datum":0,"type":"quantitative","scale":{"domain":[0,1],"range":[147,260.5],"nice":false}},"x2":{"datum":1},"y":{"field":"i","type":"quantitative","scale":{"domain":[0,1,2,3,4,7],"range":[68,89.5,117.5,139,166.5,231],"nice":false}},"y2":{"field":"i"}}},
{"data":{"name":"formR"},"mark":{"type":"rect","fill":"#f0f0f0","stroke":"#a8a8a8","yOffset":-7,"y2Offset":7},"encoding":{"x":{"datum":0,"type":"quantitative","scale":{"domain":[0,1],"range":[274.5,388],"nice":false}},"x2":{"datum":1},"y":{"field":"i","type":"quantitative","scale":{"domain":[0,1,2,3,4,7],"range":[68,89.5,117.5,139,166.5,231],"nice":false}},"y2":{"field":"i"}}},
{"data":{"name":"formR"},"mark":{"type":"text"},"encoding":{"x":{"datum":0,"type":"quantitative","scale":{"domain":[0,1],"range":[150.5,200],"nice":false}},"y":{"field":"i","type":"quantitative","scale":{"domain":[0,1,2,3,4,7],"range":[68,89.5,117.5,139,166.5,231],"nice":false}},"text":{"field":"tx"}}},
{"data":{"name":"formR"},"mark":{"type":"text"},"encoding":{"x":{"datum":0,"type":"quantitative","scale":{"domain":[0,1],"range":[277.5,300],"nice":false}},"y":{"field":"i","type":"quantitative","scale":{"domain":[0,1,2,3,4,7],"range":[68,89.5,117.5,139,166.5,231],"nice":false}},"text":{"field":"rx"}}},
{"data":{"name":"seps"},"mark":{"type":"rule","stroke":"#c8c8c8"},"encoding":{"x":{"datum":0,"type":"quantitative","scale":{"domain":[0,1],"range":[18,387],"nice":false}},"x2":{"datum":1},"y":{"field":"s","type":"quantitative","scale":{"domain":[0,1],"range":[105,154],"nice":false}}}},
{"data":{"name":"seps"},"mark":{"type":"rule","stroke":"#ffffff","yOffset":1},"encoding":{"x":{"datum":0,"type":"quantitative","scale":{"domain":[0,1],"range":[18,387],"nice":false}},"x2":{"datum":1},"y":{"field":"s","type":"quantitative","scale":{"domain":[0,1],"range":[105,154],"nice":false}}}},
{"data":{"name":"buttons"},"mark":{"type":"rect","fill":"#e1e1e1","stroke":"#adadad","yOffset":-10,"y2Offset":10},"encoding":{"x":{"datum":0,"type":"quantitative","scale":{"domain":[0,1],"range":[408,531.5],"nice":false}},"x2":{"datum":1},"y":{"field":"i","type":"quantitative","scale":{"domain":[0,2,3,5,6,9],"range":[45,93,121,169,197,269],"nice":false}},"y2":{"field":"i"}}},
{"data":{"name":"buttons"},"transform":[{"filter":"datum.i == 0"}],"mark":{"type":"rect","filled":false,"stroke":"#3a3a3a","yOffset":-10,"y2Offset":10},"encoding":{"x":{"datum":0,"type":"quantitative","scale":{"domain":[0,1],"range":[408,531.5],"nice":false}},"x2":{"datum":1},"y":{"field":"i","type":"quantitative","scale":{"domain":[0,2,3,5,6,9],"range":[45,93,121,169,197,269],"nice":false}},"y2":{"field":"i"}}},
{"data":{"name":"buttons"},"mark":{"type":"text","align":"center"},"encoding":{"x":{"datum":0,"type":"quantitative","scale":{"domain":[0,1],"range":[469.5,500],"nice":false}},"y":{"field":"i","type":"quantitative","scale":{"domain":[0,2,3,5,6,9],"range":[45,93,121,169,197,269],"nice":false}},"text":{"field":"label"}}},
{"data":{"name":"one"},"mark":{"type":"rect","fill":"#ffffff","stroke":"#c0c0c0","strokeWidth":2},"encoding":{"x":{"datum":0,"type":"quantitative","scale":{"domain":[0,1],"range":[17,389],"nice":false}},"x2":{"datum":1},"y":{"datum":0,"type":"quantitative","scale":{"domain":[0,1],"range":[239.5,343.5],"nice":false}},"y2":{"datum":1}}},
{"data":{"name":"vgrid"},"mark":{"type":"rule","stroke":"#d6d6d6","strokeWidth":1.5},"encoding":{"x":{"field":"k","type":"quantitative","scale":{"domain":[0,21],"range":[31.3,381.3],"nice":false}},"y":{"datum":0,"type":"quantitative","scale":{"domain":[0,1],"range":[242,342],"nice":false}},"y2":{"datum":1}}},
{"data":{"name":"hgrid"},"mark":{"type":"rule","stroke":"#d6d6d6","strokeWidth":1.5},"encoding":{"x":{"datum":0,"type":"quantitative","scale":{"domain":[0,1],"range":[19,387],"nice":false}},"x2":{"datum":1},"y":{"field":"k","type":"quantitative","scale":{"domain":[0,5],"range":[329,258.3],"nice":false}}}},
{"data":{"name":"rateR"},"mark":{"type":"bar","width":1.4,"color":"#ff0000"},"encoding":{"x":{"field":"t","type":"quantitative","scale":{"domain":[0,110],"range":[19.33,386],"nice":false,"zero":false}},"y":{"field":"rx","type":"quantitative","scale":{"domain":[0,100],"range":[342,242.5],"nice":false}},"y2":{"datum":0}}},
{"data":{"name":"rateR"},"mark":{"type":"bar","width":1.4,"color":"#0000ff","xOffset":-1.3},"encoding":{"x":{"field":"t","type":"quantitative","scale":{"domain":[0,110],"range":[19.33,386],"nice":false,"zero":false}},"y":{"field":"tx","type":"quantitative","scale":{"domain":[0,100],"range":[342,242.5],"nice":false}},"y2":{"datum":0}}},
{"data":{"name":"one"},"mark":{"type":"rect","fill":"#ffffff","stroke":"#707070","strokeWidth":1.5},"encoding":{"x":{"datum":0,"type":"quantitative","scale":{"domain":[0,1],"range":[21.5,123.5],"nice":false}},"x2":{"datum":1},"y":{"datum":0,"type":"quantitative","scale":{"domain":[0,1],"range":[303.5,337.5],"nice":false}},"y2":{"datum":1}}},
{"data":{"name":"legR"},"transform":[{"filter":"datum.chart == 'rate'"}],"mark":{"type":"rect","stroke":"#000000","strokeWidth":1,"y2Offset":13.5},"encoding":{"x":{"datum":0,"type":"quantitative","scale":{"domain":[0,1],"range":[24.7,39.3],"nice":false}},"x2":{"datum":1},"y":{"field":"s","type":"quantitative","scale":{"domain":[0,1],"range":[307.5,323],"nice":false}},"y2":{"field":"s"},"fill":{"field":"series","type":"nominal","scale":{"domain":["tx","rx"],"range":["#0000ff","#ff0000"]},"legend":null}}},
{"data":{"name":"legR"},"transform":[{"filter":"datum.chart == 'rate'"}],"mark":{"type":"text"},"encoding":{"x":{"datum":0,"type":"quantitative","scale":{"domain":[0,1],"range":[43.7,100],"nice":false}},"y":{"field":"s","type":"quantitative","scale":{"domain":[0,1],"range":[315,330],"nice":false}},"text":{"field":"label"}}},
{"data":{"name":"legR"},"transform":[{"filter":"datum.chart == 'rate'"}],"mark":{"type":"text"},"encoding":{"x":{"datum":0,"type":"quantitative","scale":{"domain":[0,1],"range":[66.3,100],"nice":false}},"y":{"field":"s","type":"quantitative","scale":{"domain":[0,1],"range":[315,330],"nice":false}},"text":{"field":"value"}}},
{"data":{"name":"one"},"mark":{"type":"rect","fill":"#ffffff","stroke":"#c0c0c0","strokeWidth":2},"encoding":{"x":{"datum":0,"type":"quantitative","scale":{"domain":[0,1],"range":[17,389],"nice":false}},"x2":{"datum":1},"y":{"datum":0,"type":"quantitative","scale":{"domain":[0,1],"range":[347.5,452],"nice":false}},"y2":{"datum":1}}},
{"data":{"name":"vgrid"},"mark":{"type":"rule","stroke":"#d6d6d6","strokeWidth":1.5},"encoding":{"x":{"field":"k","type":"quantitative","scale":{"domain":[0,21],"range":[31.3,381.3],"nice":false}},"y":{"datum":0,"type":"quantitative","scale":{"domain":[0,1],"range":[351,450],"nice":false}},"y2":{"datum":1}}},
{"data":{"name":"hgrid"},"mark":{"type":"rule","stroke":"#d6d6d6","strokeWidth":1.5},"encoding":{"x":{"datum":0,"type":"quantitative","scale":{"domain":[0,1],"range":[19,387],"nice":false}},"x2":{"datum":1},"y":{"field":"k","type":"quantitative","scale":{"domain":[0,5],"range":[436.7,366],"nice":false}}}},
{"data":{"name":"pktR"},"mark":{"type":"bar","width":1.4,"color":"#ff0000"},"encoding":{"x":{"field":"t","type":"quantitative","scale":{"domain":[0,110],"range":[19.33,386],"nice":false,"zero":false}},"y":{"field":"rx","type":"quantitative","scale":{"domain":[0,100],"range":[449.5,351],"nice":false}},"y2":{"datum":0}}},
{"data":{"name":"pktR"},"mark":{"type":"bar","width":1.4,"color":"#0000ff","xOffset":-1.3},"encoding":{"x":{"field":"t","type":"quantitative","scale":{"domain":[0,110],"range":[19.33,386],"nice":false,"zero":false}},"y":{"field":"tx","type":"quantitative","scale":{"domain":[0,100],"range":[449.5,351],"nice":false}},"y2":{"datum":0}}},
{"data":{"name":"one"},"mark":{"type":"rect","fill":"#ffffff","stroke":"#707070","strokeWidth":1.5},"encoding":{"x":{"datum":0,"type":"quantitative","scale":{"domain":[0,1],"range":[21.5,143.5],"nice":false}},"x2":{"datum":1},"y":{"datum":0,"type":"quantitative","scale":{"domain":[0,1],"range":[411,447.5],"nice":false}},"y2":{"datum":1}}},
{"data":{"name":"legR"},"transform":[{"filter":"datum.chart == 'pkt'"}],"mark":{"type":"rect","stroke":"#000000","strokeWidth":1,"y2Offset":13.5},"encoding":{"x":{"datum":0,"type":"quantitative","scale":{"domain":[0,1],"range":[24.7,39.3],"nice":false}},"x2":{"datum":1},"y":{"field":"s","type":"quantitative","scale":{"domain":[0,1],"range":[415.5,431],"nice":false}},"y2":{"field":"s"},"fill":{"field":"series","type":"nominal","scale":{"domain":["tx","rx"],"range":["#0000ff","#ff0000"]},"legend":null}}},
{"data":{"name":"legR"},"transform":[{"filter":"datum.chart == 'pkt'"}],"mark":{"type":"text"},"encoding":{"x":{"datum":0,"type":"quantitative","scale":{"domain":[0,1],"range":[43.7,100],"nice":false}},"y":{"field":"s","type":"quantitative","scale":{"domain":[0,1],"range":[422.5,438],"nice":false}},"text":{"field":"label"}}},
{"data":{"name":"legR"},"transform":[{"filter":"datum.chart == 'pkt'"}],"mark":{"type":"text"},"encoding":{"x":{"datum":0,"type":"quantitative","scale":{"domain":[0,1],"range":[108,150],"nice":false}},"y":{"field":"s","type":"quantitative","scale":{"domain":[0,1],"range":[422.5,438],"nice":false}},"text":{"field":"value"}}},
{"data":{"name":"status"},"mark":{"type":"rect","fill":"#f0f0f0","stroke":"#a0a0a0","x2Offset":-3},"encoding":{"x":{"field":"i","type":"quantitative","scale":{"domain":[0,1,2,3,4,5],"range":[9.5,117,224.7,332,440,545],"nice":false}},"x2":{"field":"j"},"y":{"datum":0,"type":"quantitative","scale":{"domain":[0,1],"range":[458.5,478.5],"nice":false}},"y2":{"datum":1}}},
{"data":{"name":"status"},"mark":{"type":"text","dx":3},"encoding":{"x":{"field":"i","type":"quantitative","scale":{"domain":[0,1,2,3,4,5],"range":[9.5,117,224.7,332,440,545],"nice":false}},"y":{"datum":0,"type":"quantitative","scale":{"domain":[0,1],"range":[468.5,478],"nice":false}},"text":{"field":"label"},"color":{"condition":{"test":"datum.dim","value":"#a8a8a8"},"value":"#000000"}}}
]}
]
}
